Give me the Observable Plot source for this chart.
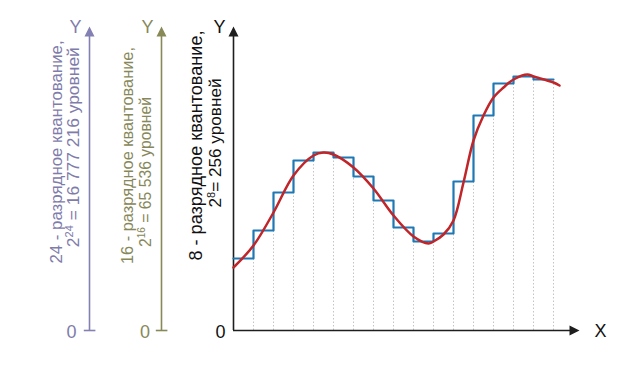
<!DOCTYPE html>
<html><head><meta charset="utf-8">
<script src="https://cdn.jsdelivr.net/npm/d3@7"></script>
<script src="https://cdn.jsdelivr.net/npm/@observablehq/plot@0.6"></script>
<style>body{margin:0;background:#fff;} #chart svg{display:block;}</style>
</head><body><div id="chart"></div>
<script>
// ---- data ----
const sampleX = [0,1,2,3,4,5,6,7,8,9,10,11,12,13,14,15,16];
const stepLevels = [72,100,138,170,178,173,154,130,103,89,97,149,215,247,254,251];
const curveX = [0,1,2,3,4,4.5,5,6,7,8,9,9.75,10,10.5,11,11.5,12,12.5,13,13.5,14,14.7,15,16,16.3];
const curveY = [63,85,118,155,175,178,176,163,142,115,94,87,89,96,110,148,190,215,233,243,251,256,254,248,245];
const axisBits = ["24","16","8"];
const labelLine1 = ["24 - разрядное квантование,","16 - разрядное квантование,","8 - разрядное квантование,"];
const levelBase = ["2","2","2"];
const levelExp = ["24","16","8"];
const levelRest = [" = 16 777 216 уровней"," = 65 536 уровней","= 256 уровней"];
const zeroLabel = "0";
const yName = "Y", xName = "X";

// ---- layout ----
const W = 643, H = 372;
const xMin = -11.65, xMax = 17.3, yTop = 304;
const axisPos = [-7.2, -3.6, 0];
const axisColor = ["#8380b3", "#878957", "#1e1e1e"];
const textColor = ["#7f7cab", "#87885a", "#111111"];
const labelSize = [16.7, 16.4, 17.9];
const len1 = [223, 217, 230];
const len2 = [200, 150, 129];
const line1Pos = [[-8.85,178.5],[-5.28,175],[-1.85,185]];
const line2Pos = [[-7.98,183.3],[-4.4,158.5],[-0.9,187.5]];
const zeroDx = [-18, -16.5, -13];
const headLen = 9;

const arrowUp = {draw(c){c.moveTo(0,0);c.lineTo(-5,10);c.lineTo(5,10);c.closePath();}};
const arrowRight = {draw(c){c.moveTo(0,0);c.lineTo(-10,-5);c.lineTo(-10,5);c.closePath();}};

const stepPts = sampleX.slice(0,-1).map((x,i)=>({x, y: stepLevels[i]}));
stepPts.push({x: sampleX[sampleX.length-1], y: stepLevels[stepLevels.length-1]});
const curvePts = curveX.map((x,i)=>({x, y: curveY[i]}));
const grid = sampleX.slice(1).map(k => ({x: k, y2: Math.min(stepLevels[k-1], k < stepLevels.length ? stepLevels[k] : Infinity)}));

const font = "'Liberation Sans', Arial, sans-serif";
const marks = [];
const fitTargets = new Map();

// grid
marks.push(Plot.ruleX(grid, {x: "x", y1: 0, y2: "y2", stroke: "#c4c4c4", strokeWidth: 1, strokeDasharray: "1.5,2"}));

// left and main axes
axisBits.forEach((b, i) => {
  const ax = axisPos[i], col = axisColor[i], tcol = textColor[i];
  const l2 = levelBase[i] + "^" + levelExp[i] + "^" + levelRest[i];
  fitTargets.set(labelLine1[i], len1[i]);
  fitTargets.set(levelBase[i] + levelExp[i] + levelRest[i], len2[i]);
  marks.push(Plot.ruleX([ax], {x: d=>d, y1: 0, y2: yTop - headLen, stroke: col, strokeWidth: 1.6}));
  marks.push(Plot.dot([ax], {x: d=>d, y: yTop, symbol: arrowUp, fill: col, stroke: "none", r: 5}));
  marks.push(Plot.text([yName], {x: ax, y: yTop, dx: -14, dy: 1, text: d=>d, fill: tcol, fontSize: 18, fontFamily: font}));
  marks.push(Plot.text([zeroLabel], {x: ax, y: 0, dx: zeroDx[i], dy: 1.5, text: d=>d, fill: tcol, fontSize: 18, fontFamily: font}));
  marks.push(Plot.text([labelLine1[i]], {x: line1Pos[i][0], y: line1Pos[i][1], text: d=>d, rotate: -90, fill: tcol, fontSize: labelSize[i], fontFamily: font}));
  marks.push(Plot.text([l2], {x: line2Pos[i][0], y: line2Pos[i][1], text: d=>d, rotate: -90, fill: tcol, fontSize: labelSize[i], fontFamily: font}));
  if (i < 2) marks.push(Plot.ruleY([0], {y: d=>d, x1: ax - 0.26, x2: ax + 0.32, stroke: col, strokeWidth: 1.6}));
});
// main x axis
marks.push(Plot.ruleY([0], {y: d=>d, x1: 0, x2: xMax - headLen/20, stroke: "#1e1e1e", strokeWidth: 1.6}));
marks.push(Plot.dot([0], {x: xMax, y: d=>d, symbol: arrowRight, fill: "#1e1e1e", stroke: "none", r: 5}));
marks.push(Plot.text([xName], {x: xMax, y: 0, dx: 21, dy: 1, text: d=>d, fill: "#111111", fontSize: 18, fontFamily: font}));

// signals
marks.push(Plot.line(stepPts, {x: "x", y: "y", curve: "step-after", stroke: "#1f78b4", strokeWidth: 2.2}));
marks.push(Plot.line(curvePts, {x: "x", y: "y", curve: "catmull-rom", stroke: "#bf2529", strokeWidth: 2.5}));

const chart = Plot.plot({
  width: W, height: H,
  marginLeft: 0, marginRight: W - 579, marginTop: 26, marginBottom: H - 330,
  x: {domain: [xMin, xMax], axis: null},
  y: {domain: [0, yTop], axis: null},
  style: {fontFamily: font, background: "#fff", overflow: "visible"},
  marks
});

// superscripts as tspans
d3.select(chart).selectAll("text").each(function() {
  const t = this.textContent;
  if (!t.includes("^")) return;
  const [base, exp, rest] = t.split("^");
  const sel = d3.select(this);
  sel.text(null);
  sel.append("tspan").text(base);
  sel.append("tspan").attr("dy", -6).attr("font-size", "0.64em").text(exp);
  sel.append("tspan").attr("dy", 6).text(rest);
});
document.getElementById("chart").appendChild(chart);

// fit label font sizes to the lengths measured on the picture
d3.select(chart).selectAll("text").each(function() {
  const target = fitTargets.get(this.textContent);
  if (!target) return;
  const fs = parseFloat(getComputedStyle(this).fontSize);
  const len = this.getComputedTextLength();
  if (len > 0) this.style.fontSize = (fs * target / len).toFixed(2) + "px";
});
</script>
</body></html>
